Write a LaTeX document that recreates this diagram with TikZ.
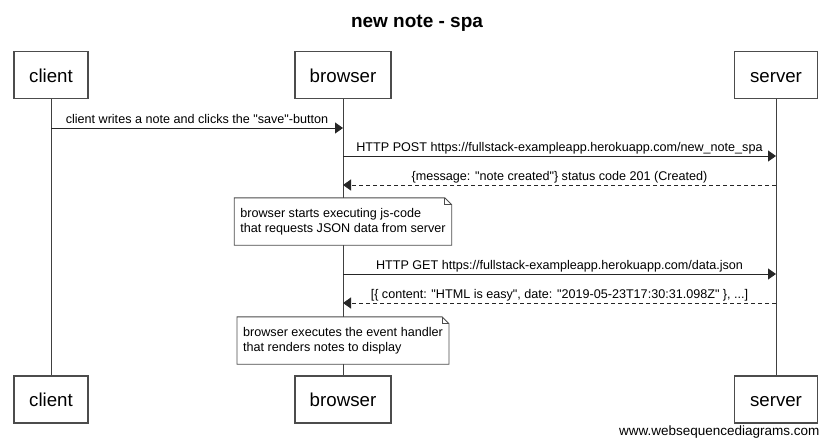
\documentclass[tikz,border=0pt]{standalone}
\usepackage{fontspec}
\setmainfont{Liberation Sans}[Ligatures=TeXOff]
\usetikzlibrary{arrows.meta}

\tikzset{
  actor/.style={draw=black!70, line width=1.1pt, fill=white, minimum height=47pt,
    inner sep=0pt, text height=16pt, text depth=2pt, font=\fontsize{18.7}{20}\selectfont},
  lifeline/.style={draw=black!75, line width=0.9pt},
  msg/.style={draw=black!85, line width=0.9pt, -{Triangle[length=8pt,width=11pt]}},
  reply/.style={msg, dash pattern=on 4pt off 3pt},
  msglabel/.style={above, inner sep=0pt, yshift=2pt, font=\fontsize{12.6}{15}\selectfont,
    text height=9pt, text depth=2.5pt},
  notebox/.style={fill=white, align=left, inner xsep=6pt, minimum height=47pt,
    font=\fontsize{12.6}{15}\selectfont},
}

\begin{document}
\begin{tikzpicture}[x=1pt,y=-1pt]
  \useasboundingbox (0,0) rectangle (831,445);
  \node[font=\bfseries\fontsize{19}{22}\selectfont] (title) at (417,23) {new note - spa};

  % participants
  \node[actor, minimum width=74pt] (clientTop) at (51,75) {client};
  \node[actor, minimum width=96pt] (browserTop) at (343,75) {browser};
  \node[actor, minimum width=83pt] (serverTop) at (776,75) {server};
  \node[actor, minimum width=74pt] (clientBot) at (51,399.5) {client};
  \node[actor, minimum width=96pt] (browserBot) at (343,399.5) {browser};
  \node[actor, minimum width=83pt] (serverBot) at (776,399.5) {server};

  \draw[lifeline] (clientTop.south) -- (clientBot.north);
  \draw[lifeline] (browserTop.south) -- (browserBot.north);
  \draw[lifeline] (serverTop.south) -- (serverBot.north);

  % message rows
  \foreach \y/\n in {128/1,156/2,185/3,274/4,303/5} {
    \coordinate (cl\n) at (clientTop |- 0,\y);
    \coordinate (br\n) at (browserTop |- 0,\y);
    \coordinate (sv\n) at (serverTop |- 0,\y);
  }

  \draw[msg] (cl1) -- node[msglabel]{client writes a note and clicks the "save"-button} (br1);
  \draw[msg] (br2) -- node[msglabel]{HTTP POST https://fullstack-exampleapp.herokuapp.com/new\_note\_spa} (sv2);
  \draw[reply] (sv3) -- node[msglabel]{\{message: "note created"\} status code 201 (Created)} (br3);

  % notes
  \node[notebox] (note1) at (343,221.5) {browser starts executing js-code\\that requests JSON data from server};
  \node[notebox] (note2) at (343,340.5) {browser executes the event handler\\that renders notes to display};
  \foreach \nt in {note1,note2} {
    \draw[draw=black!70, line width=0.9pt] (\nt.south west) -- (\nt.south east)
      -- ([yshift=-7pt]\nt.north east) -- ([xshift=-7pt]\nt.north east)
      -- (\nt.north west) -- cycle;
    \draw[draw=black!70, line width=0.7pt] ([xshift=-7pt]\nt.north east)
      -- ([xshift=-7pt,yshift=-7pt]\nt.north east) -- ([yshift=-7pt]\nt.north east);
  }

  \draw[msg] (br4) -- node[msglabel]{HTTP GET https://fullstack-exampleapp.herokuapp.com/data.json} (sv4);
  \draw[reply] (sv5) -- node[msglabel]{[\{ content: "HTML is easy", date: "2019-05-23T17:30:31.098Z" \}, ...]} (br5);

  \node[anchor=east, font=\fontsize{13.5}{15}\selectfont] (credit) at (823,432) {www.websequencediagrams.com};
\end{tikzpicture}
\end{document}
